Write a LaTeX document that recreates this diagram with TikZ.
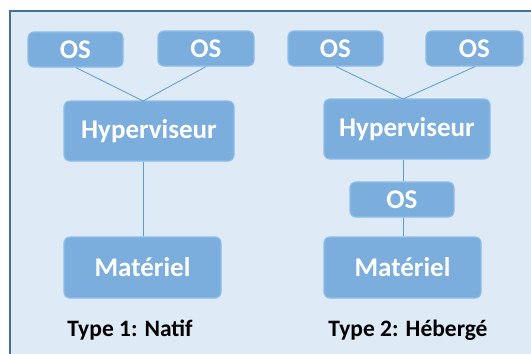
\documentclass[tikz,border=0pt]{standalone}
\usepackage{fontspec}
\setmainfont{Carlito}
\definecolor{framebg}{HTML}{DEEAF6}
\definecolor{frameline}{HTML}{41719C}
\definecolor{boxfill}{HTML}{7BADDD}
\definecolor{boxline}{HTML}{8EBDE8}
\definecolor{linkcol}{HTML}{5B9BD5}
\tikzset{
  x=1pt,y=-1pt,
  blk/.style={draw=boxline,line width=1.2pt,fill=boxfill,rounded corners=6pt,
    text=white,font=\bfseries\fontsize{27}{29}\selectfont,inner sep=0pt},
  link/.style={draw=linkcol,line width=0.8pt},
  captext/.style={font=\bfseries\fontsize{23.5}{25}\selectfont,text=black}
}
\newcommand{\blkat}[6]{% name, x1,y1,x2,y2, text
  \node[blk,minimum width={#4-#2},minimum height={#5-#3}] (#1) at ({(#2+#4)/2},{(#3+#5)/2}) {#6};}
\begin{document}
\begin{tikzpicture}
\useasboundingbox (0,0) rectangle (531,354);
\fill[white] (0,0) rectangle (531,354);
\draw[fill=framebg,draw=frameline,line width=2pt] (10,11) rectangle (545,370);
% left
\blkat{osa}{28}{32}{123}{67}{OS}
\blkat{osb}{158}{31}{254}{66}{OS}
\blkat{hypa}{64}{101}{234}{161}{Hyperviseur}
\blkat{mata}{64}{237}{221}{298}{Matériel}
% right
\blkat{osc}{288}{31}{383}{66}{OS}
\blkat{osd}{426}{31}{523}{66}{OS}
\blkat{hypb}{324}{99}{490}{159}{Hyperviseur}
\blkat{osm}{350}{182}{454}{217}{OS}
\blkat{matb}{324}{237}{481}{298}{Matériel}
% links
\coordinate (ta) at (143,101);
\coordinate (tb) at (403,99);
\draw[link] (osa.south -| 76,0) -- (ta);
\draw[link] (osb.south -| 206,0) -- (ta);
\draw[link] (hypa.south -| 143,0) -- (mata.north -| 143,0);
\draw[link] (osc.south -| 336,0) -- (tb);
\draw[link] (osd.south -| 475,0) -- (tb);
\draw[link] (hypb.south -| 403,0) -- (osm.north -| 403,0);
\draw[link] (osm.south -| 403,0) -- (matb.north -| 403,0);
\node[captext] (capa) at (130,330) {Type 1: Natif};
\node[captext] (capb) at (408,330) {Type 2: Hébergé};
\end{tikzpicture}
\end{document}
